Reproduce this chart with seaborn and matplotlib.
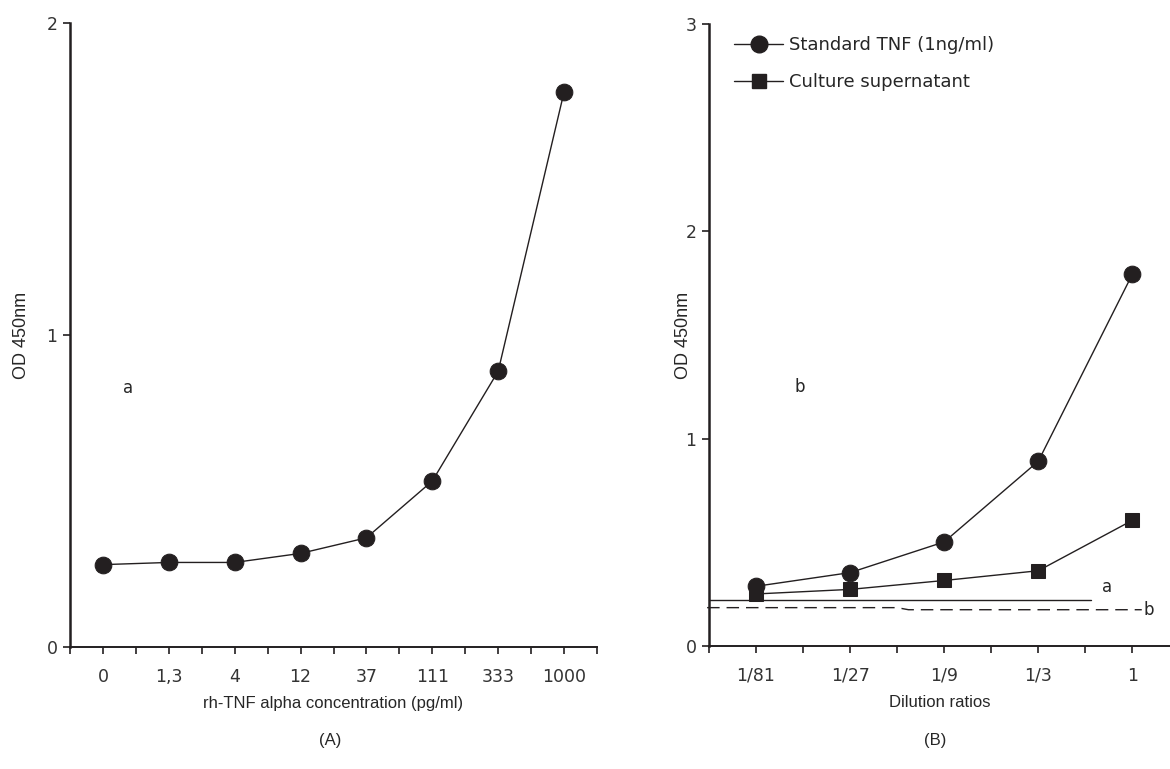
import matplotlib
matplotlib.use('Agg')
import matplotlib.pyplot as plt
from matplotlib.lines import Line2D
from matplotlib.ticker import MultipleLocator
import numpy as np
import pandas as pd
import seaborn as sns

# panel A: standard curve
conc_labels = ['0', '1,3', '4', '12', '37', '111', '333', '1000']
od_standard_curve = [0.264, 0.271, 0.271, 0.300, 0.350, 0.532, 0.884, 1.779]

# panel B: dilution series
dilution_labels = ['1/81', '1/27', '1/9', '1/3', '1']
od_std_tnf = [0.288, 0.354, 0.502, 0.891, 1.793]
od_supernatant = [0.251, 0.273, 0.316, 0.363, 0.606]

# background reference lines in panel B (a solid, b dashed)
line_a_x = [-0.5, 3.56]
line_a_y = [0.222, 0.222]
line_b_x = [-0.52, 1.5, 1.62, 4.1]
line_b_y = [0.185, 0.185, 0.175, 0.175]

sns.set_style("ticks")
plt.rcParams['font.family'] = ['DejaVu Sans']
ink = '#231f20'
narrow = ['Liberation Sans Narrow', 'Liberation Sans', 'DejaVu Sans']

fig = plt.figure(figsize=(11.7, 7.69), dpi=100)
axA = fig.add_axes([70 / 1170, 122 / 769, 527 / 1170, 624 / 769])
axB = fig.add_axes([709 / 1170, 123 / 769, 461 / 1170, 622 / 769])

dfA = pd.DataFrame({'x': np.arange(len(conc_labels)), 'od': od_standard_curve})
sns.lineplot(data=dfA, x='x', y='od', ax=axA, color=ink, lw=1.0,
             marker='o', markersize=12, markeredgecolor=ink, markerfacecolor=ink)

dfB = pd.DataFrame({'x': np.arange(len(dilution_labels)),
                    'std': od_std_tnf, 'sup': od_supernatant})
sns.lineplot(data=dfB, x='x', y='std', ax=axB, color=ink, lw=1.0,
             marker='o', markersize=12, markeredgecolor=ink, markerfacecolor=ink)
sns.lineplot(data=dfB, x='x', y='sup', ax=axB, color=ink, lw=1.0,
             marker='s', markersize=10, markeredgecolor=ink, markerfacecolor=ink)
axB.plot(line_a_x, line_a_y, color=ink, lw=1.0, clip_on=False)
axB.plot(line_b_x, line_b_y, color=ink, lw=1.0, dashes=(9, 5), clip_on=False)
axB.text(line_a_x[-1] + 0.12, line_a_y[0] + 0.02, 'a', fontsize=12, ha='left', va='bottom')
axB.text(line_b_x[-1] + 0.02, line_b_y[-1], 'b', fontsize=12, ha='left', va='center')

for ax, labels, ymax, xmax in [(axA, conc_labels, 2, 7.5), (axB, dilution_labels, 3, 4.4)]:
    ax.set_xlim(-0.5, xmax)
    ax.set_ylim(0, ymax)
    ax.set_xticks(range(len(labels)))
    ax.set_xticklabels(labels)
    ax.xaxis.set_minor_locator(MultipleLocator(0.5))
    ax.set_yticks(range(ymax + 1))
    ax.tick_params(axis='both', which='both', direction='out', length=5, width=1.2,
                   color=ink, labelsize=12.5, labelcolor='#333333', pad=10)
    ax.tick_params(axis='y', pad=4)
    sns.despine(ax=ax)
    ax.spines['left'].set_linewidth(1.8)
    ax.spines['bottom'].set_linewidth(1.4)
    ax.spines['left'].set_color(ink)
    ax.spines['bottom'].set_color(ink)
    ax.set_ylabel('OD 450nm', fontsize=13, family=narrow, labelpad=14)

axA.set_xlabel('rh-TNF alpha concentration (pg/ml)', fontsize=12, family=narrow, labelpad=7)
axB.set_xlabel('Dilution ratios', fontsize=12, family=narrow, labelpad=7)
axB.yaxis.set_label_coords(-0.036, 0.5)
axA.yaxis.set_label_coords(-0.075, 0.5)

axA.text(0.38, 0.83, 'a', fontsize=12, ha='center', va='center')
axB.text(0.46, 1.25, 'b', fontsize=12, ha='center', va='center')

fig.text(330 / 1170, 1 - 741 / 769, '(A)', fontsize=12, family=narrow, ha='center', va='center')
fig.text(935 / 1170, 1 - 741 / 769, '(B)', fontsize=12, family=narrow, ha='center', va='center')

handles = [Line2D([], [], color=ink, lw=1.0, marker='o', markersize=12),
           Line2D([], [], color=ink, lw=1.0, marker='s', markersize=10)]
axB.legend(handles, ['Standard TNF (1ng/ml)', 'Culture supernatant'], loc='upper left',
           bbox_to_anchor=(0.02, 1.007), frameon=False, handlelength=2.7, handletextpad=0.3,
           labelspacing=1.05, prop={'size': 13, 'family': 'DejaVu Sans'})

fig.savefig('out.png', dpi=100)
